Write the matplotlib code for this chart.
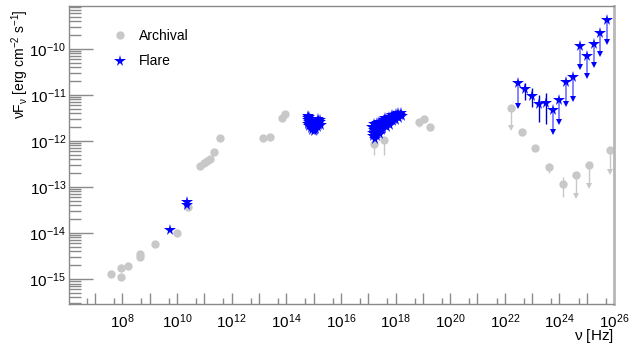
import numpy as np
import matplotlib
matplotlib.use("Agg")
import matplotlib.pyplot as plt
from matplotlib.ticker import FixedLocator, NullFormatter

plt.rcParams["font.family"] = ["Liberation Sans", "DejaVu Sans"]
plt.rcParams["mathtext.fontset"] = "custom"
plt.rcParams["mathtext.rm"] = "Liberation Sans"
plt.rcParams["mathtext.it"] = "Liberation Sans:italic"

GRAY = "#c8c8c8"
BLUE = "#0000ff"
AXIS_COL = "#8a8a8a"

# archival detections (log10 nu [Hz], log10 nuFnu [erg cm-2 s-1])
arch_lognu = [7.57, 7.94, 7.94, 8.22, 8.63, 8.63, 9.19, 9.99, 10.39,
              10.86, 10.98, 11.10, 11.20, 11.37, 11.59,
              13.16, 13.42, 13.85, 13.97,
              17.20, 17.59, 18.87, 19.06, 19.25,
              22.63, 23.12, 23.62, 24.12]
arch_logF = [-14.90, -14.75, -14.95, -14.72, -14.46, -14.52, -14.23, -13.99, -13.44,
             -12.54, -12.48, -12.43, -12.39, -12.24, -11.94,
             -11.93, -11.91, -11.51, -11.41,
             -12.07, -11.99, -11.60, -11.52, -11.69,
             -11.80, -12.15, -12.57, -12.94]
# error bar extent in dex (down, up)
arch_err_lo = [0, 0, 0, 0, 0, 0, 0, 0, 0,
               0.05, 0, 0, 0, 0, 0.07,
               0, 0, 0, 0,
               0.23, 0.31, 0.10, 0.06, 0.10,
               0.05, 0, 0.13, 0.28]
arch_err_hi = [0, 0, 0, 0, 0, 0, 0, 0, 0,
               0, 0, 0, 0, 0, 0.07,
               0, 0, 0, 0,
               0.05, 0.05, 0.03, 0.03, 0.05,
               0.05, 0, 0.10, 0.16]

# archival upper limits
arch_ul_lognu = [22.23, 24.62, 25.10, 25.86]
arch_ul_logF = [-11.29, -12.75, -12.53, -12.20]
arch_ul_logtip = [-11.72, -13.20, -12.99, -12.67]

# flare: radio / mm
flare_radio_lognu = [9.74, 10.36, 10.36]
flare_radio_logF = [-13.93, -13.33, -13.39]

# flare: optical/UV cluster
flare_opt_lognu = [14.78, 14.80, 14.79, 14.83, 14.81, 14.85, 14.90, 14.95, 15.00, 15.05,
                   15.10, 15.15, 15.20, 15.24, 15.22, 15.17, 15.12, 15.06, 15.00, 14.94,
                   14.88, 14.92, 15.02, 15.08, 15.16, 14.86, 14.97, 15.19, 15.26, 14.84]
flare_opt_logF = [-11.46, -11.50, -11.55, -11.59, -11.63, -11.68, -11.72, -11.76, -11.78, -11.77,
                  -11.74, -11.70, -11.65, -11.60, -11.55, -11.52, -11.58, -11.63, -11.66, -11.68,
                  -11.62, -11.56, -11.70, -11.68, -11.63, -11.53, -11.73, -11.58, -11.66, -11.48]

# flare: X-ray cluster
flare_xray_lognu = [17.15, 17.16, 17.18, 17.20, 17.22, 17.24, 17.26, 17.28, 17.30, 17.32,
                    17.34, 17.36, 17.38, 17.40, 17.42, 17.45, 17.47, 17.50, 17.52, 17.55,
                    17.57, 17.60, 17.62, 17.65, 17.68, 17.70, 17.73, 17.76, 17.78, 17.81,
                    17.84, 17.87, 17.90, 17.93, 17.96, 18.00, 18.03, 18.06, 18.10, 18.13,
                    18.16, 18.20, 18.22]
flare_xray_logF = [-11.70, -11.82, -11.90, -11.76, -11.64, -11.86, -11.95, -11.72, -11.80, -11.62,
                   -11.90, -11.68, -11.78, -11.60, -11.84, -11.70, -11.58, -11.76, -11.64, -11.72,
                   -11.55, -11.66, -11.50, -11.60, -11.70, -11.52, -11.62, -11.48, -11.58, -11.66,
                   -11.50, -11.44, -11.56, -11.46, -11.52, -11.42, -11.55, -11.47, -11.40, -11.50,
                   -11.44, -11.40, -11.46]

# flare: gamma-ray detections
flare_gam_lognu = [22.75, 23.00, 23.25, 23.50]
flare_gam_logF = [-10.88, -11.02, -11.20, -11.18]
flare_gam_loglo = [-11.11, -11.27, -11.60, -11.63]
flare_gam_loghi = [-10.75, -10.85, -11.00, -10.96]

# flare: gamma-ray upper limits
flare_ul_lognu = [22.50, 23.75, 24.00, 24.25, 24.50, 24.75, 25.00, 25.25, 25.50, 25.75]
flare_ul_logF = [-10.75, -11.33, -11.11, -10.73, -10.62, -9.95, -10.15, -9.90, -9.65, -9.38]
flare_ul_logtip = [-11.24, -11.80, -11.59, -11.20, -11.09, -10.40, -10.60, -10.35, -10.11, -9.85]

x_major_exp = list(range(7, 27))
x_label_exp = list(range(8, 27, 2))
y_major_exp = [-15, -14, -13, -12, -11, -10]


def p10(v):
    return 10.0 ** np.asarray(v, dtype=float)


def main():
    fig = plt.figure(figsize=(6.42, 3.47), dpi=100)
    ax = fig.add_axes([0.1075, 0.124, 0.849, 0.859])
    ax.set_xscale("log")
    ax.set_yscale("log")

    # archival
    x = p10(arch_lognu)
    y = p10(arch_logF)
    lo = y - p10(np.array(arch_logF) - np.array(arch_err_lo))
    hi = p10(np.array(arch_logF) + np.array(arch_err_hi)) - y
    ax.errorbar(x, y, yerr=[lo, hi], fmt="o", color=GRAY, ms=6, mew=0,
                elinewidth=1, capsize=0, zorder=2)

    xu = p10(arch_ul_lognu)
    ax.vlines(xu, p10(arch_ul_logtip), p10(arch_ul_logF), color=GRAY, lw=1, zorder=2)
    ax.plot(xu, p10(arch_ul_logF), "o", color=GRAY, ms=6, mew=0, zorder=2)
    ax.plot(xu, p10(arch_ul_logtip), "v", color=GRAY, ms=4.5, mew=0, zorder=2)

    # flare
    star = dict(marker="*", color=BLUE, ms=8.5, mew=0, ls="none", zorder=3)
    ax.plot(p10(flare_radio_lognu), p10(flare_radio_logF), **star)
    ax.plot(p10(flare_opt_lognu), p10(flare_opt_logF), **star)
    ax.plot(p10(flare_xray_lognu), p10(flare_xray_logF), **star)

    xg = p10(flare_gam_lognu)
    ax.vlines(xg, p10(flare_gam_loglo), p10(flare_gam_loghi), color="#0000c0", lw=1, zorder=3)
    ax.plot(xg, p10(flare_gam_logF), **star)

    xf = p10(flare_ul_lognu)
    ax.vlines(xf, p10(flare_ul_logtip), p10(flare_ul_logF), color="#6f6fff", lw=1.2, zorder=3)
    ax.plot(xf, p10(flare_ul_logtip), "v", color=BLUE, ms=5, mew=0, zorder=3)
    ax.plot(xf, p10(flare_ul_logF), **star)

    # legend
    h1, = ax.plot([], [], "o", color=GRAY, ms=6, mew=0)
    h2, = ax.plot([], [], marker="*", color=BLUE, ms=8.5, mew=0, ls="none")
    ax.legend([h1, h2], ["Archival", "Flare"], loc="upper left",
              bbox_to_anchor=(0.07, 0.94), frameon=False, fontsize=10,
              handlelength=1.0, handletextpad=0.9, labelspacing=0.8,
              borderaxespad=0)

    ax.set_xlim(10 ** 6.05, 1e26)
    ax.set_ylim(10 ** -15.54, 10 ** -9.07)

    ax.set_xticks(p10(x_major_exp))
    ax.set_xticklabels([r"$\mathregular{10^{%d}}$" % e if e in x_label_exp else ""
                        for e in x_major_exp])
    ax.xaxis.set_minor_locator(FixedLocator(5 * p10(range(6, 26))))
    ax.xaxis.set_minor_formatter(NullFormatter())

    ax.set_yticks(p10(y_major_exp))
    ax.set_yticklabels([r"$\mathregular{10^{%d}}$" % e for e in y_major_exp])
    y_minor = [m * 10.0 ** e for e in range(-16, -9) for m in range(2, 10)]
    ax.yaxis.set_minor_locator(FixedLocator(y_minor))
    ax.yaxis.set_minor_formatter(NullFormatter())

    ax.tick_params(axis="both", which="both", direction="in", color=AXIS_COL,
                   top=False, right=False, labelsize=11, width=1)
    ax.tick_params(axis="x", which="major", length=8, pad=6)
    ax.tick_params(axis="x", which="minor", length=4)
    ax.tick_params(axis="y", which="major", length=17, pad=2)
    ax.tick_params(axis="y", which="minor", length=8.5)

    for side, sp in ax.spines.items():
        sp.set_color(AXIS_COL)
        sp.set_linewidth(1)
    ax.spines["right"].set_color("#b8b8b8")
    ax.spines["right"].set_linewidth(2)

    ax.set_ylabel(r"$\mathregular{\nu F_{\nu}}$ [erg cm$^{\mathregular{-2}}$ s$^{\mathregular{-1}}$]",
                  fontsize=10)
    ax.yaxis.set_label_coords(-0.069, 0.99)
    ax.yaxis.label.set_horizontalalignment("right")
    ax.set_xlabel(r"$\mathregular{\nu}$ [Hz]", fontsize=11)
    ax.xaxis.set_label_coords(1.0, -0.078)
    ax.xaxis.label.set_horizontalalignment("right")

    fig.savefig("out.png", dpi=100)
    plt.close(fig)


if __name__ == "__main__":
    main()
